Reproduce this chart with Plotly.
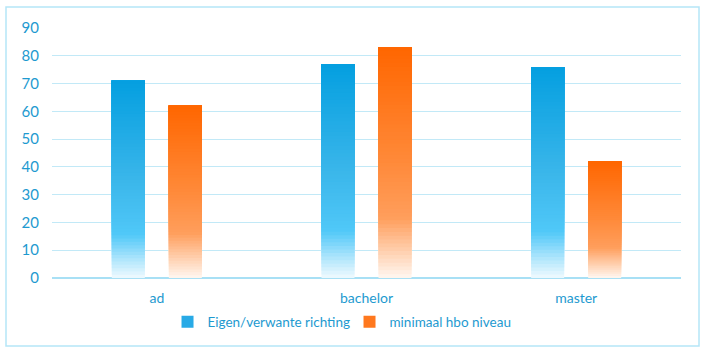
import plotly.graph_objects as go

categories = ["ad", "bachelor", "master"]
series_names = ["Eigen/verwante richting", "minimaal hbo niveau"]
eigen_values = [71, 77, 76]
hbo_values = [62, 83, 42]
y_ticks = [0, 10, 20, 30, 40, 50, 60, 70, 80, 90]

# gradient stops: (fraction of bar height from bottom, rgb)
blue_stops = [(0.0, (240, 250, 254)), (0.1, (170, 228, 252)), (0.22, (80, 200, 248)),
              (0.5, (58, 182, 234)), (1.0, (4, 159, 224))]
orange_stops = [(0.0, (255, 247, 241)), (0.12, (255, 206, 172)), (0.26, (255, 158, 92)),
                (0.5, (255, 138, 58)), (1.0, (255, 102, 0))]


def interp(stops, t):
    for (t0, c0), (t1, c1) in zip(stops[:-1], stops[1:]):
        if t0 <= t <= t1:
            f = (t - t0) / (t1 - t0) if t1 > t0 else 0
            return "rgb(%d,%d,%d)" % tuple(round(a + (b - a) * f) for a, b in zip(c0, c1))
    return "rgb(%d,%d,%d)" % stops[-1][1]


N = 60
fig = go.Figure()
for name, values, stops, group, legend_color in [
    (series_names[0], eigen_values, blue_stops, "a", "rgb(40,170,230)"),
    (series_names[1], hbo_values, orange_stops, "b", "rgb(255,120,30)"),
]:
    for k in range(N):
        t = (k + 0.5) / N
        # each layer spans from its start to the bar top; later layers cover earlier ones
        fig.add_trace(go.Bar(
            x=categories,
            y=[v * (N - k) / N for v in values],
            base=[v * k / N for v in values],
            offsetgroup=group,
            marker=dict(color=interp(stops, t), line=dict(width=0)),
            showlegend=False,
            hoverinfo="skip",
            name=name,
        ))
    # legend entry
    fig.add_trace(go.Bar(
        x=[None], y=[None], name=name, offsetgroup=group,
        marker=dict(color=legend_color, line=dict(width=0)),
        showlegend=True,
    ))

fig.update_layout(
    width=709, height=357,
    margin=dict(l=52, r=28, t=28, b=79),
    paper_bgcolor="white", plot_bgcolor="white",
    barmode="group", bargap=0.456, bargroupgap=0.421,
    font=dict(family="Lato, Open Sans, sans-serif", size=15, color="#1E9AD0"),
    xaxis=dict(showgrid=False, showline=False, ticks="", ticklabelstandoff=10,
               tickfont=dict(size=14, color="#1E9AD0")),
    yaxis=dict(range=[0, 90], tickvals=y_ticks, showgrid=True, gridcolor="#C2E9F7",
               gridwidth=1, zeroline=True, zerolinecolor="#A8E0F5", zerolinewidth=2,
               ticks="", ticklabelstandoff=12, tickfont=dict(size=15, color="#1E9AD0")),
    legend=dict(orientation="h", x=0.473, xanchor="center", y=-0.176, yanchor="middle",
                font=dict(size=13.5, color="#1E9AD0"), itemwidth=30, traceorder="normal",
                entrywidth=137),
    shapes=[dict(type="rect", xref="paper", yref="paper",
                 x0=(6 - 52) / 629, x1=(699 - 52) / 629,
                 y0=(278 - 346) / 250, y1=(278 - 7) / 250,
                 line=dict(color="#B5E6F8", width=1.5), layer="below")],
)

fig.write_html("out.html", config={"displayModeBar": False},
               post_script="document.body.style.margin='0';")
